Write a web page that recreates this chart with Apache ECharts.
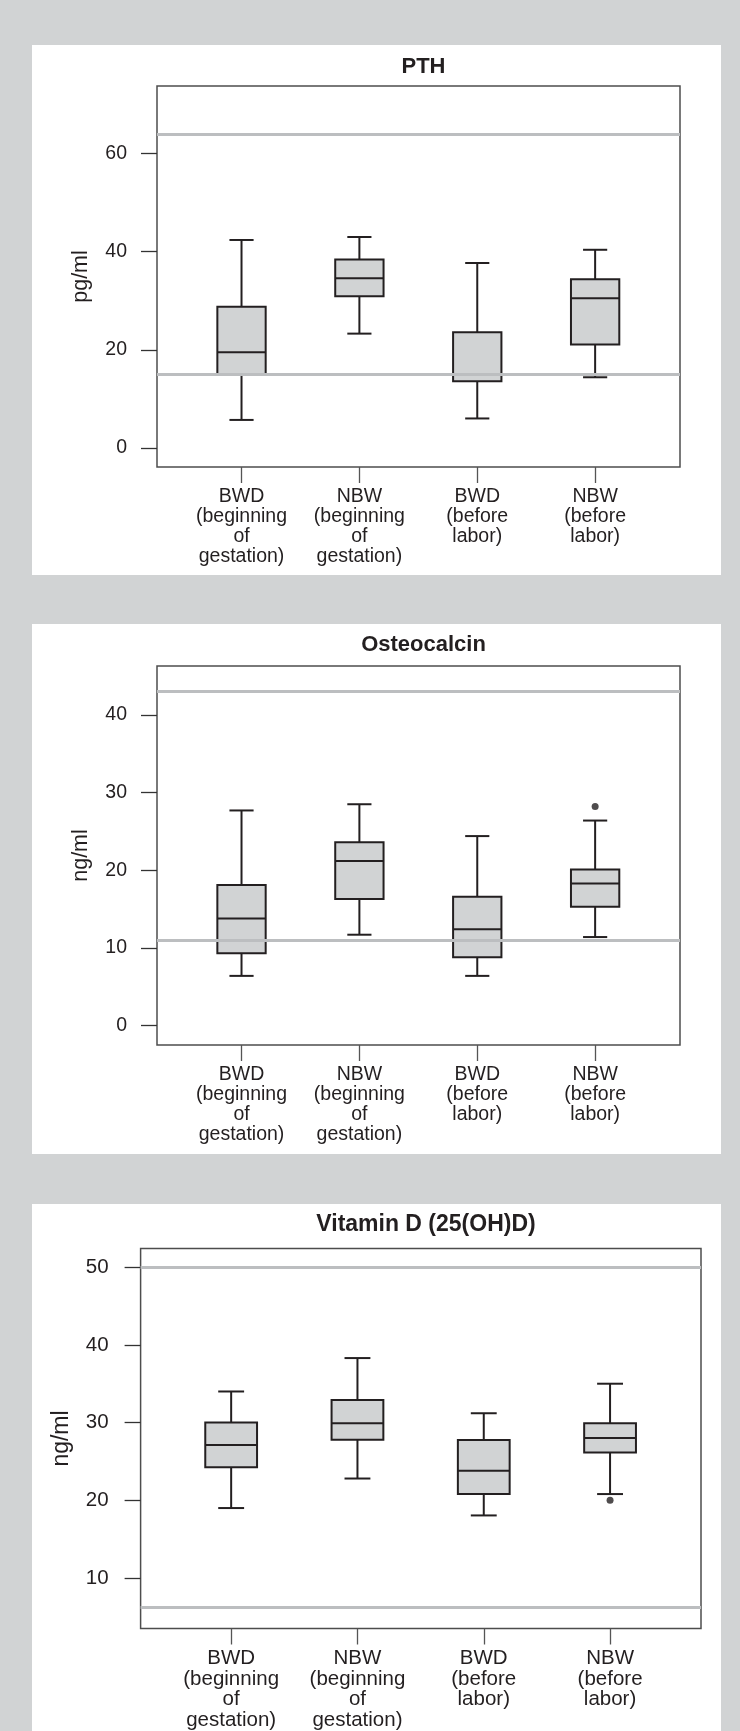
<!DOCTYPE html>
<html>
<head>
<meta charset="utf-8">
<script src="https://cdn.jsdelivr.net/npm/echarts@6.0.0/dist/echarts.min.js"></script>
<style>
html, body { margin: 0; padding: 0; background: #d1d3d4; }
body { width: 740px; height: 1731px; position: relative; overflow: hidden; }
.panel { position: absolute; left: 32px; width: 689px; background: #fff; }
</style>
</head>
<body>
<div class="panel" id="pth" style="top:45px;height:530px"></div>
<div class="panel" id="osteo" style="top:624px;height:530px"></div>
<div class="panel" id="vitd" style="top:1204px;height:527px"></div>
<script>
// groups on the x axis
const groups = [
  'BWD\n(beginning\nof\ngestation)',
  'NBW\n(beginning\nof\ngestation)',
  'BWD\n(before\nlabor)',
  'NBW\n(before\nlabor)'
]

// boxes are [min, Q1, median, Q3, max]
const pthBoxes = [
  [5.7, 15.0, 19.5, 28.8, 42.4],
  [23.3, 30.9, 34.6, 38.4, 43.0],
  [6.0, 13.6, 15.0, 23.6, 37.7],
  [14.4, 21.1, 30.5, 34.4, 40.4]
]
const pthOutliers = []           // [group, value]
const pthRefs = [15, 64]         // reference range lines
const pthTicks = [0, 20, 40, 60]

const osteoBoxes = [
  [6.4, 9.3, 13.8, 18.1, 27.7],
  [11.7, 16.3, 21.2, 23.6, 28.5],
  [6.4, 8.8, 12.4, 16.6, 24.4],
  [11.4, 15.3, 18.3, 20.1, 26.4]
]
const osteoOutliers = [[4, 28.2]]
const osteoRefs = [11, 43]
const osteoTicks = [0, 10, 20, 30, 40]

const vitdBoxes = [
  [19.0, 24.25, 27.1, 30.0, 34.0],
  [22.8, 27.8, 29.9, 32.9, 38.3],
  [18.05, 20.8, 23.8, 27.75, 31.2],
  [20.8, 26.15, 28.0, 29.9, 35.0]
]
const vitdOutliers = [[4, 20.0]]
const vitdRefs = [6.2, 50]
const vitdTicks = [10, 20, 30, 40, 50]

const INK = '#231f20'
const FONT = '"Liberation Sans", Arial, Helvetica, sans-serif'
const BOX_W = 0.41

function renderBox(params, api) {
  const x = api.value(0)
  const lo = api.coord([x, api.value(1)])
  const q1 = api.coord([x, api.value(2)])
  const med = api.coord([x, api.value(3)])
  const q3 = api.coord([x, api.value(4)])
  const hi = api.coord([x, api.value(5)])
  const w = api.size([BOX_W, 0])[0]
  const cx = lo[0]
  const st = { stroke: INK, lineWidth: 2 }
  return {
    type: 'group',
    children: [
      { type: 'line', shape: { x1: cx, y1: q3[1], x2: cx, y2: hi[1] }, style: st },
      { type: 'line', shape: { x1: cx, y1: q1[1], x2: cx, y2: lo[1] }, style: st },
      { type: 'line', shape: { x1: cx - w / 4, y1: hi[1], x2: cx + w / 4, y2: hi[1] }, style: st },
      { type: 'line', shape: { x1: cx - w / 4, y1: lo[1], x2: cx + w / 4, y2: lo[1] }, style: st },
      { type: 'rect', shape: { x: cx - w / 2, y: q3[1], width: w, height: q1[1] - q3[1] },
        style: { fill: '#d1d3d4', stroke: INK, lineWidth: 2 } },
      { type: 'line', shape: { x1: cx - w / 2, y1: med[1], x2: cx + w / 2, y2: med[1] }, style: st }
    ]
  }
}

function makeChart(domid, cfg) {
  const chart = echarts.init(document.getElementById(domid))
  const boxData = cfg.boxes.map((b, i) => [i + 1].concat(b))
  const option = {
    animation: false,
    title: {
      text: cfg.title,
      left: cfg.titleX,
      top: cfg.titleTop,
      textAlign: 'center',
      textStyle: { fontFamily: FONT, fontWeight: 'bold', fontSize: cfg.titleSize, color: INK }
    },
    grid: {
      show: true,
      left: cfg.grid.left, right: cfg.grid.right, top: cfg.grid.top, height: cfg.grid.height,
      borderColor: '#4d4d4d', borderWidth: 1.5,
      containLabel: false
    },
    xAxis: {
      type: 'value',
      min: 0.283,
      max: 4.72,
      position: 'bottom',
      axisLine: { show: false, onZero: false },
      splitLine: { show: false },
      axisTick: { show: true, length: 16, customValues: [1, 2, 3, 4], lineStyle: { color: '#555', width: 1.3 } },
      axisLabel: {
        customValues: [1, 2, 3, 4],
        formatter: v => groups[Math.round(v) - 1],
        margin: 20,
        fontFamily: FONT, fontSize: cfg.fontSize, lineHeight: cfg.lineHeight, color: INK, align: 'center'
      }
    },
    yAxis: {
      type: 'value',
      min: cfg.yMin,
      max: cfg.yMax,
      name: cfg.yName,
      nameLocation: 'middle',
      nameGap: cfg.nameGap,
      nameTextStyle: { fontFamily: FONT, fontSize: cfg.nameSize, color: INK },
      axisLine: { show: false, onZero: false },
      splitLine: { show: false },
      axisTick: { show: true, length: 16, customValues: cfg.ticks, lineStyle: { color: '#333', width: 1.3 } },
      axisLabel: {
        customValues: cfg.ticks,
        margin: cfg.labelMargin,
        fontFamily: FONT, fontSize: cfg.fontSize, color: INK
      }
    },
    series: [
      {
        type: 'custom',
        z: 2,
        renderItem: renderBox,
        encode: { x: 0, y: [1, 2, 3, 4, 5] },
        data: boxData
      },
      {
        type: 'scatter',
        z: 5,
        symbolSize: 7,
        itemStyle: { color: INK },
        data: cfg.outliers,
        markLine: {
          silent: true,
          symbol: 'none',
          label: { show: false },
          lineStyle: { color: '#bcbec0', width: 3, type: 'solid' },
          data: cfg.refs.map(v => ({ yAxis: v }))
        }
      }
    ]
  }
  chart.setOption(option)
  return chart
}

makeChart('pth', {
  title: 'PTH', titleX: 386.5, titleTop: 6, titleSize: 22,
  grid: { left: 125, right: 41, top: 41, height: 381 },
  yMin: -3.9, yMax: 73.8, ticks: pthTicks, yName: 'pg/ml', nameGap: 65, nameSize: 21.5,
  fontSize: 19.5, lineHeight: 20, labelMargin: 30,
  boxes: pthBoxes, outliers: pthOutliers, refs: pthRefs
})

makeChart('osteo', {
  title: 'Osteocalcin', titleX: 386.5, titleTop: 5, titleSize: 22,
  grid: { left: 125, right: 41, top: 42, height: 379 },
  yMin: -2.5, yMax: 46.3, ticks: osteoTicks, yName: 'ng/ml', nameGap: 65, nameSize: 21.5,
  fontSize: 19.5, lineHeight: 20, labelMargin: 30,
  boxes: osteoBoxes, outliers: osteoOutliers, refs: osteoRefs
})

makeChart('vitd', {
  title: 'Vitamin D (25(OH)D)', titleX: 389, titleTop: 4, titleSize: 23,
  grid: { left: 108.6, right: 20, top: 44.5, height: 380 },
  yMin: 3.5, yMax: 52.4, ticks: vitdTicks, yName: 'ng/ml', nameGap: 67, nameSize: 23,
  fontSize: 20.5, lineHeight: 20.5, labelMargin: 32,
  boxes: vitdBoxes, outliers: vitdOutliers, refs: vitdRefs
})
</script>
</body>
</html>
